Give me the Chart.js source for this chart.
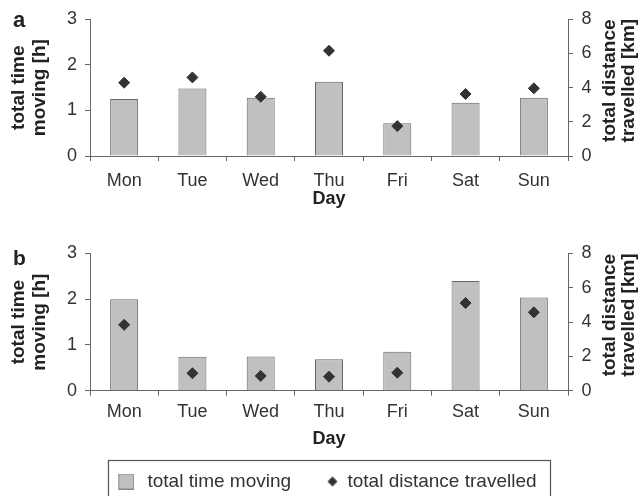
<!DOCTYPE html>
<html><head><meta charset="utf-8">
<script src="https://cdn.jsdelivr.net/npm/chart.js@4"></script>
<style>
html,body{margin:0;padding:0;background:#fff;overflow:hidden;width:642px;height:496px}
#wa{position:absolute;left:0;top:0;width:642px;height:215px}
#wb{position:absolute;left:0;top:215px;width:642px;height:286px}
</style></head><body>
<div id="wa"><canvas id="ca"></canvas></div>
<div id="wb"><canvas id="cb"></canvas></div>
<script>
// ---- data ----
const days = ['Mon','Tue','Wed','Thu','Fri','Sat','Sun'];
const timeA = [1.25,1.48,1.28,1.63,0.72,1.17,1.28];
const distA = [4.29,4.60,3.47,6.16,1.75,3.63,3.96];
const timeB = [2.00,0.74,0.75,0.69,0.85,2.40,2.04];
const distB = [3.84,1.02,0.86,0.82,1.05,5.11,4.57];
const timeRange = [0,3];
const distRange = [0,8];
const seriesNames = ['total time moving','total distance travelled'];
const leftTitle = ['total time','moving [h]'];
const rightTitle = ['total distance','travelled [km]'];
const xTitle = 'Day';

// ---- style ----
const FONT = "'Liberation Sans', Arial, Helvetica, sans-serif";
const TXT = '#333';
const TTL = '#222';
const AX = '#666';
const BAR = '#c0c0c0';
const BAR_EDGE = '#666';
const DOT = '#333';

function makeImg(w, h, draw){ const c=document.createElement('canvas'); c.width=w; c.height=h; draw(c.getContext('2d')); return c; }
const sqImg = makeImg(25, 16, g=>{ g.fillStyle=BAR; g.fillRect(9.5,0.5,15,15); g.strokeStyle='#888'; g.lineWidth=1; g.strokeRect(9.5,0.5,15,15); });
const dmImg = makeImg(34, 12, g=>{ const cx=27.75, cy=6, r=5; g.fillStyle=DOT; g.beginPath(); g.moveTo(cx-r,cy); g.lineTo(cx,cy-r); g.lineTo(cx+r,cy); g.lineTo(cx,cy+r); g.closePath(); g.fill(); });

const textPlugin = {
  id:'panelText',
  afterDraw(chart, args, o){
    const ctx = chart.ctx, ca = chart.chartArea;
    ctx.save();
    ctx.fillStyle = TTL;
    ctx.font = `bold ${o.letterSize}px ${FONT}`;
    ctx.textAlign='left'; ctx.textBaseline='alphabetic';
    ctx.fillText(o.letter, o.letterX, o.letterY);
    ctx.font = `bold 19px ${FONT}`;
    ctx.textAlign='center'; ctx.textBaseline='middle';
    const cy = (ca.top+ca.bottom)/2 + o.rtDy;
    rightTitle.forEach((t,i)=>{ ctx.save(); ctx.translate(o.rtX[i], cy); ctx.rotate(-Math.PI/2); ctx.fillText(t,0,0); ctx.restore(); });
    const lg = chart.legend;
    if (o.box && lg && lg.legendHitBoxes && lg.legendHitBoxes.length){
      const hb = lg.legendHitBoxes; const last = hb[hb.length-1];
      const cyl = hb[0].top + hb[0].height/2;
      ctx.strokeStyle='#555'; ctx.lineWidth=1.2;
      ctx.strokeRect(o.boxL, cyl - 21, o.boxR - o.boxL, chart.height);
    }
    ctx.restore();
  }
};

function makeChart(id, letter, time, dist, g){
  return new Chart(document.getElementById(id), {
    type:'bar',
    data:{ labels: days, datasets:[
      { type:'bar', label: seriesNames[0], data: time, yAxisID:'y', backgroundColor:BAR, borderColor:BAR_EDGE, borderWidth:1, barPercentage:0.41, categoryPercentage:1, order:2 },
      { type:'line', label: seriesNames[1], data: dist, yAxisID:'y1', showLine:false, pointStyle:'rectRot', pointRadius:5.5, pointBackgroundColor:DOT, pointBorderColor:DOT, pointBorderWidth:1, order:1 }
    ]},
    options:{
      responsive:true, maintainAspectRatio:false, animation:false, events:[],
      layout:{ padding:{ top:g.top, left:0, right:0, bottom:0 } },
      plugins:{
        tooltip:{ enabled:false },
        legend: g.legend ? {
          display:true, position:'bottom',
          labels:{ font:{ family:FONT, size:19 }, color:TXT, usePointStyle:true, pointStyleWidth:32.5, padding:14.4,
            generateLabels(){ return [
              { text: seriesNames[0], pointStyle: sqImg, fillStyle:BAR, strokeStyle:BAR, lineWidth:0, hidden:false, datasetIndex:0, fontColor:TXT },
              { text: seriesNames[1], pointStyle: dmImg, fillStyle:DOT, strokeStyle:DOT, lineWidth:0, hidden:false, datasetIndex:1, fontColor:TXT }
            ]; } }
        } : { display:false },
        panelText:{ letter, letterSize:g.letterSize, letterX:13, letterY:g.letterY, rtX:[609.5,628.5], rtDy:g.rtDy, box:g.legend, boxL:108.5, boxR:550.5 }
      },
      scales:{
        x:{
          grid:{ display:true, drawOnChartArea:false, drawTicks:true, tickLength:5, color:AX, offset:true },
          border:{ display:true, color:AX, width:1 },
          ticks:{ color:TXT, font:{ family:FONT, size:18 }, padding:g.xPad, maxRotation:0, autoSkip:false },
          title:{ display:true, text:xTitle, color:TTL, font:{ family:FONT, size:18, weight:'bold', lineHeight:1.2 }, padding:{ top:0, bottom:g.dayPad } },
          afterFit(s){ const lh = (s.chart.legend && g.legend) ? s.chart.legend.height : 0; s.height = s.chart.height - g.bottom - lh; }
        },
        y:{
          position:'left', min:timeRange[0], max:timeRange[1],
          grid:{ display:true, drawOnChartArea:false, drawTicks:true, tickLength:5, color:AX },
          border:{ display:true, color:AX, width:1 },
          ticks:{ stepSize:1, color:TXT, font:{ family:FONT, size:18 }, padding:8 },
          title:{ display:true, text:leftTitle, color:TTL, font:{ family:FONT, size:19, weight:'bold', lineHeight:1.13 }, padding:{ top:7.7, bottom:0 } },
          afterFit(s){ s.width = 90; }
        },
        y1:{
          position:'right', min:distRange[0], max:distRange[1],
          grid:{ display:true, drawOnChartArea:false, drawTicks:true, tickLength:5, color:AX },
          border:{ display:true, color:AX, width:1 },
          ticks:{ stepSize:2, color:TXT, font:{ family:FONT, size:18 }, padding:8.5 },
          afterFit(s){ s.width = 74; }
        }
      }
    },
    plugins:[textPlugin]
  });
}

makeChart('ca','a',timeA,distA,{ top:19.3, bottom:156, legend:false, xPad:9, dayPad:5.5, letterSize:22, letterY:27, rtDy:-7 });
makeChart('cb','b',timeB,distB,{ top:38.5, bottom:175.7, legend:true, xPad:6, dayPad:8, letterSize:21, letterY:50, rtDy:-7 });
</script>
</body></html>
